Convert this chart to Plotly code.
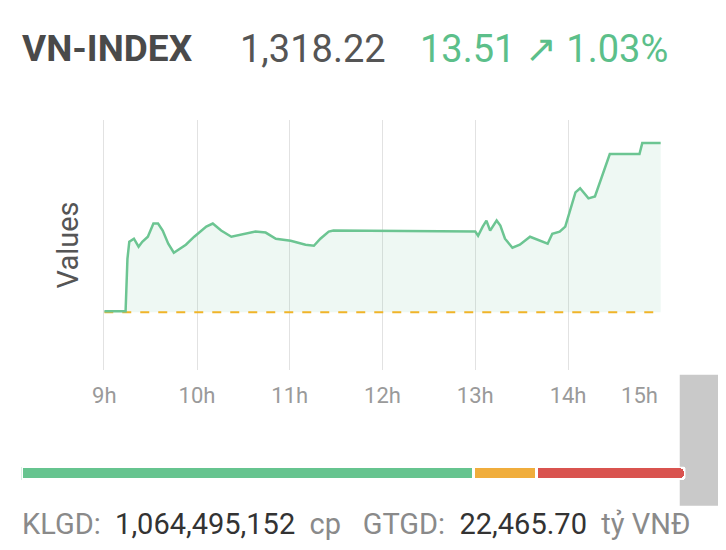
import plotly.graph_objects as go

hours = [9.00, 9.23, 9.25, 9.27, 9.32, 9.37, 9.41, 9.47, 9.53, 9.58, 9.63, 9.69, 9.75, 9.81, 9.88, 9.97,
         10.02, 10.10, 10.17, 10.26, 10.37, 10.47, 10.63, 10.74, 10.85, 11.01, 11.17, 11.26, 11.33, 11.42, 11.47,
         13.00, 13.03, 13.08, 13.12, 13.16, 13.23, 13.27, 13.32, 13.40, 13.48, 13.59, 13.70, 13.78, 13.83, 13.91,
         13.97, 14.02, 14.08, 14.13, 14.22, 14.29, 14.34, 14.39, 14.43, 14.45, 14.77, 14.80, 15.00]
values = [1304.79, 1304.79, 1308.97, 1310.34, 1310.58, 1309.94, 1310.34, 1310.74, 1311.79, 1311.79, 1311.23,
          1310.18, 1309.46, 1309.78, 1310.10, 1310.74, 1311.07, 1311.55, 1311.79, 1311.23, 1310.74, 1310.90,
          1311.15, 1311.07, 1310.58, 1310.42, 1310.10, 1310.02, 1310.58, 1311.15, 1311.23, 1311.15, 1310.82,
          1311.55, 1312.03, 1311.23, 1312.03, 1311.63, 1310.58, 1309.86, 1310.10, 1310.74, 1310.42, 1310.18,
          1310.98, 1311.15, 1311.55, 1312.84, 1314.28, 1314.61, 1313.80, 1313.96, 1315.01, 1316.21, 1317.02,
          1317.34, 1317.34, 1318.22, 1318.22]
reference = 1304.71
tick_hours = [9, 10, 11, 12, 13, 14]
tick_labels = ["9h", "10h", "11h", "12h", "13h", "14h"]
last_tick = [14.77]
last_label = ["15h"]
breadth_labels = ["Tăng", "Đứng", "Giảm"]
breadth_values = [446, 62, 147]
breadth_colors = ["#66c48f", "#f0ad3c", "#d9534f"]

GREEN = "#5cbf8a"
fig = go.Figure()
fig.add_trace(go.Scatter(x=[hours[0], hours[-1]], y=[reference, reference], mode="lines",
                         line=dict(color="#f0b429", width=2, dash="dash"), hoverinfo="skip"))
fig.add_trace(go.Scatter(x=hours, y=values, mode="lines", fill="tonexty",
                         fillcolor="rgba(92,191,138,0.10)", line=dict(color="#6cc592", width=2.5)))
fig.add_trace(go.Scatter(x=last_tick, y=[reference], xaxis="x2", yaxis="y", mode="markers",
                         marker=dict(opacity=0), hoverinfo="skip"))
for lab, v, c in zip(breadth_labels, breadth_values, breadth_colors):
    fig.add_trace(go.Bar(x=[v], y=[0], orientation="h", name=lab, xaxis="x3", yaxis="y3",
                         marker=dict(color=c, line=dict(color="white", width=3)), width=1))

TICKFONT = dict(size=22, color="#9a9a9a")
fig.update_layout(
    width=726, height=550, margin=dict(l=0, r=0, t=0, b=0), paper_bgcolor="white", plot_bgcolor="white",
    showlegend=False, font=dict(family="Roboto", color="#999"), barmode="stack", barcornerradius=6,
    xaxis=dict(domain=[0.118, 0.8975], range=[9, 15], tickvals=tick_hours, ticktext=tick_labels,
               showgrid=True, gridcolor="#e2e2e2", zeroline=False, showline=False,
               tickfont=TICKFONT, ticklabelstandoff=10),
    xaxis2=dict(overlaying="x", range=[9, 15], tickvals=last_tick, ticktext=last_label, side="bottom",
                showgrid=False, zeroline=False, anchor="y", tickfont=TICKFONT, ticklabelstandoff=10),
    yaxis=dict(domain=[0.342, 0.7965], range=[1300.1, 1320.07], showticklabels=False, showgrid=False,
               zeroline=False, showline=True, linecolor="#e2e2e2", linewidth=1,
               title=dict(text="Values", font=dict(size=29, color="#555"), standoff=16)),
    xaxis3=dict(domain=[0.002, 0.932], range=[0, sum(breadth_values)], visible=False, anchor="y3"),
    yaxis3=dict(domain=[0.142, 0.166], range=[-0.5, 0.5], visible=False, anchor="x3"),
    shapes=[dict(type="rect", xref="paper", yref="paper", x0=0.924, x1=1.02, y0=0.095, y1=0.333,
                 fillcolor="#c9c9c9", line=dict(width=0), layer="below")],
)
fig.add_annotation(xref="paper", yref="paper", x=0.0, y=0.926, xanchor="left", yanchor="middle",
                   showarrow=False, font=dict(family="Roboto", size=37),
                   text="<b><span style='color:#4a4a4a'>VN-INDEX</span></b>")
fig.add_annotation(xref="paper", yref="paper", x=0.305, y=0.926, xanchor="left", yanchor="middle",
                   showarrow=False, font=dict(family="Roboto", size=38, color="#555"), text="1,318.22")
fig.add_annotation(xref="paper", yref="paper", x=0.557, y=0.926, xanchor="left", yanchor="middle",
                   showarrow=False, font=dict(family="Roboto", size=38, color=GREEN), text="13.51 ↗ 1.03%")
fig.add_annotation(xref="paper", yref="paper", x=0.0, y=0.061, xanchor="left", yanchor="middle",
                   showarrow=False, font=dict(family="Roboto", size=29, color="#8a8a8a"),
                   text="KLGD:  <span style='color:#333'>1,064,495,152</span>  cp   GTGD:  "
                        "<span style='color:#333'>22,465.70</span>  tỷ VNĐ")
fig.write_html("out.html")
